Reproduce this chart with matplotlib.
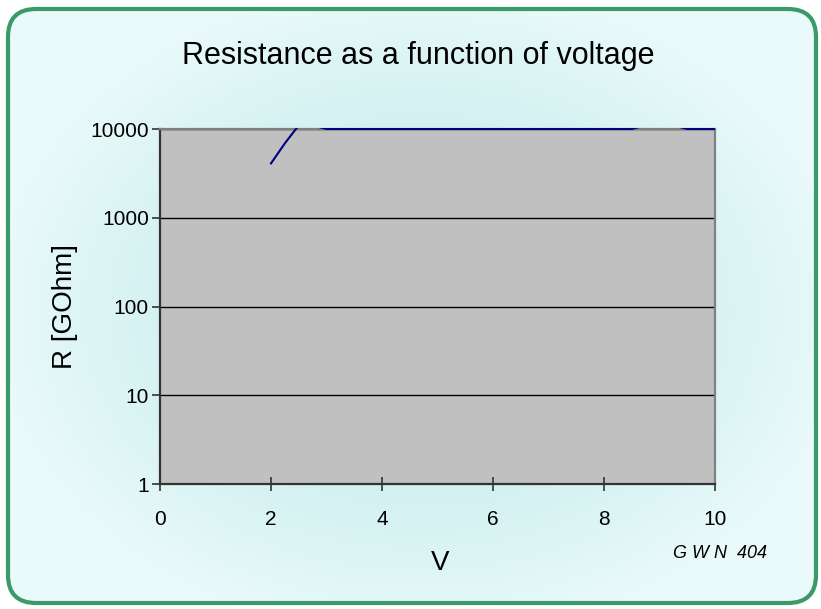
import matplotlib
matplotlib.use("Agg")
import matplotlib.pyplot as plt
import numpy as np
from matplotlib.patches import FancyBboxPatch
from matplotlib.transforms import Bbox, TransformedBbox

plt.rcParams["font.family"] = ["Liberation Sans", "DejaVu Sans"]

# measured resistance (GOhm) against voltage; values above 10000 are clipped by the axis
voltage = [2.0, 2.25, 2.5, 2.75, 3.0, 3.5, 4.0, 4.5, 5.0, 5.5, 6.0, 6.5, 7.0, 7.5,
           8.0, 8.5, 8.75, 9.0, 9.25, 9.5, 10.0]
resistance = [4100, 6900, 11000, 11000, 10000, 10000, 10000, 10000, 10000, 10000,
              10000, 10000, 10000, 10000, 10000, 10000, 11000, 11000, 11000, 10000, 10000]
y_ticks = [1, 10, 100, 1000, 10000]
x_ticks = [0, 2, 4, 6, 8, 10]

fig = plt.figure(figsize=(8.21, 6.09), dpi=100)
fig.patch.set_facecolor("white")

# background panel: soft radial cyan gradient inside a rounded green frame
bg = fig.add_axes([0, 0, 1, 1], zorder=0)
bg.set_xlim(0, 821)
bg.set_ylim(609, 0)
bg.axis("off")
yy, xx = np.mgrid[0:609, 0:821]
r = np.sqrt(((xx - 420) / 430.0) ** 2 + ((yy - 310) / 330.0) ** 2)
r = np.clip(r, 0, 1)
c0 = np.array([0.79, 0.93, 0.93])
c1 = np.array([0.92, 0.98, 0.98])
img = c0[None, None, :] * (1 - r[..., None] ** 2) + c1[None, None, :] * r[..., None] ** 2
frame = FancyBboxPatch((8, 9), 808, 594, boxstyle="round,pad=0,rounding_size=28",
                       facecolor="none", edgecolor="#3a9a6a", linewidth=3)
bg.add_patch(frame)
im = bg.imshow(img, extent=(0, 821, 609, 0), aspect="auto")
im.set_clip_path(frame)

ax = fig.add_axes([160 / 821, 1 - 484 / 609, 555 / 821, 355 / 609], zorder=1)
ax.set_facecolor("#c0c0c0")
ax.set_yscale("log")
ax.set_xlim(0, 10)
ax.set_ylim(1, 10000)
for t in y_ticks[1:]:
    ax.axhline(t, color="black", lw=1.0, zorder=1)
line, = ax.plot(voltage, resistance, color="#000080", lw=1.5, zorder=3)
# let the line sit on the top frame, but clip anything above 10000
line.set_clip_box(TransformedBbox(Bbox([[0, 0], [1, 1.004]]), ax.transAxes))

ax.set_xticks(x_ticks)
ax.set_yticks(y_ticks)
ax.set_yticklabels([str(t) for t in y_ticks])
ax.minorticks_off()
ax.tick_params(axis="both", labelsize=15, color="#333333", length=6, width=1.2)
ax.tick_params(axis="x", direction="inout", length=10, pad=14)
ax.tick_params(axis="y", direction="out", pad=2)

for side in ["left", "bottom"]:
    ax.spines[side].set_color("#333333")
    ax.spines[side].set_linewidth(1.6)
for side in ["top", "right"]:
    ax.spines[side].set_color("#808080")
    ax.spines[side].set_linewidth(1.6)

fig.text(418 / 821, 1 - 56 / 609, "Resistance as a function of voltage",
         ha="center", va="center", fontsize=22)
ax.set_ylabel("R [GOhm]", fontsize=20, labelpad=9)
fig.text(440 / 821, 1 - 563 / 609, "V", ha="center", va="center", fontsize=20)
fig.text(720 / 821, 1 - 553 / 609, "G W N  404", ha="center", va="center",
         fontsize=13, style="italic")

fig.savefig("out.png", dpi=100)
